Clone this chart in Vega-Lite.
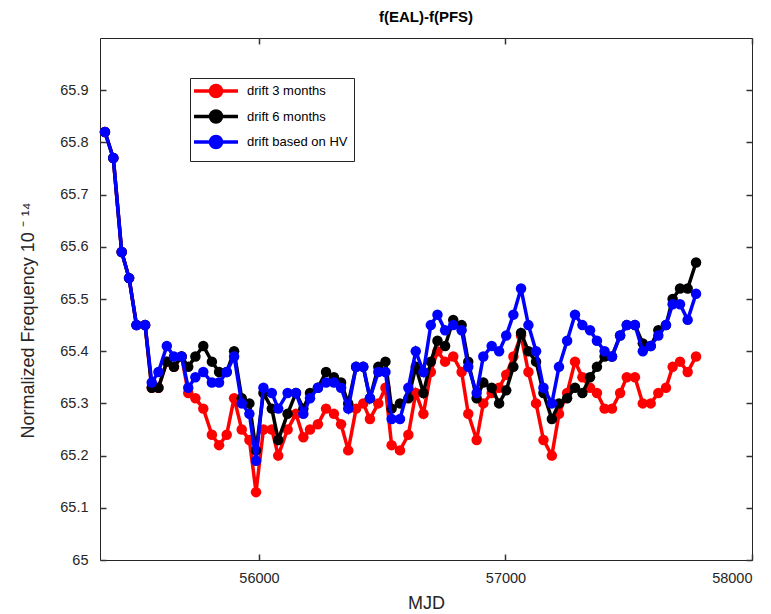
{
  "$schema": "https://vega.github.io/schema/vega-lite/v6.json",
  "autosize": {"type": "none"},
  "padding": {"left": 100, "top": 38, "right": 19, "bottom": 54},
  "width": 652,
  "height": 522,
  "background": "white",
  "title": {"text": "f(EAL)-f(PFS)", "fontSize": 15, "fontWeight": "bold", "font": "Liberation Sans", "color": "black", "offset": 12},
  "config": {
    "view": {"stroke": "#262626", "strokeWidth": 1},
    "axis": {"grid": false, "domain": false, "zindex": 1, "tickColor": "#262626", "labelColor": "#262626", "titleColor": "#262626", "labelFont": "Liberation Sans", "titleFont": "Liberation Sans", "labelFontSize": 14.5, "titleFontSize": 18, "titleFontWeight": "normal", "offset": -6}
  },
  "data": {"values": [
    {"MJD": 55375, "drift3": 65.82, "drift6": 65.82, "driftHV": 65.82},
    {"MJD": 55409, "drift3": 65.77, "drift6": 65.77, "driftHV": 65.77},
    {"MJD": 55443, "drift3": 65.59, "drift6": 65.59, "driftHV": 65.59},
    {"MJD": 55473, "drift3": 65.54, "drift6": 65.54, "driftHV": 65.54},
    {"MJD": 55503, "drift3": 65.45, "drift6": 65.45, "driftHV": 65.45},
    {"MJD": 55538, "drift3": 65.45, "drift6": 65.45, "driftHV": 65.45},
    {"MJD": 55565, "drift3": 65.33, "drift6": 65.33, "driftHV": 65.34},
    {"MJD": 55592, "drift3": 65.33, "drift6": 65.33, "driftHV": 65.36},
    {"MJD": 55626, "drift3": 65.38, "drift6": 65.38, "driftHV": 65.41},
    {"MJD": 55655, "drift3": 65.37, "drift6": 65.37, "driftHV": 65.39},
    {"MJD": 55686, "drift3": 65.39, "drift6": 65.39, "driftHV": 65.39},
    {"MJD": 55713, "drift3": 65.32, "drift6": 65.37, "driftHV": 65.33},
    {"MJD": 55742, "drift3": 65.31, "drift6": 65.39, "driftHV": 65.35},
    {"MJD": 55774, "drift3": 65.29, "drift6": 65.41, "driftHV": 65.36},
    {"MJD": 55809, "drift3": 65.24, "drift6": 65.38, "driftHV": 65.34},
    {"MJD": 55838, "drift3": 65.22, "drift6": 65.36, "driftHV": 65.34},
    {"MJD": 55869, "drift3": 65.24, "drift6": 65.36, "driftHV": 65.36},
    {"MJD": 55899, "drift3": 65.31, "drift6": 65.40, "driftHV": 65.39},
    {"MJD": 55930, "drift3": 65.25, "drift6": 65.31, "driftHV": 65.30},
    {"MJD": 55961, "drift3": 65.23, "drift6": 65.30, "driftHV": 65.28},
    {"MJD": 55988, "drift3": 65.13, "drift6": 65.21, "driftHV": 65.19},
    {"MJD": 56018, "drift3": 65.25, "drift6": 65.32, "driftHV": 65.33},
    {"MJD": 56052, "drift3": 65.25, "drift6": 65.29, "driftHV": 65.32},
    {"MJD": 56078, "drift3": 65.20, "drift6": 65.23, "driftHV": 65.29},
    {"MJD": 56116, "drift3": 65.25, "drift6": 65.28, "driftHV": 65.32},
    {"MJD": 56150, "drift3": 65.28, "drift6": 65.32, "driftHV": 65.32},
    {"MJD": 56180, "drift3": 65.235, "drift6": 65.29, "driftHV": 65.28},
    {"MJD": 56207, "drift3": 65.25, "drift6": 65.32, "driftHV": 65.31},
    {"MJD": 56239, "drift3": 65.26, "drift6": 65.33, "driftHV": 65.33},
    {"MJD": 56272, "drift3": 65.29, "drift6": 65.36, "driftHV": 65.34},
    {"MJD": 56304, "drift3": 65.28, "drift6": 65.35, "driftHV": 65.34},
    {"MJD": 56333, "drift3": 65.26, "drift6": 65.34, "driftHV": 65.33},
    {"MJD": 56362, "drift3": 65.21, "drift6": 65.30, "driftHV": 65.29},
    {"MJD": 56394, "drift3": 65.29, "drift6": 65.37, "driftHV": 65.37},
    {"MJD": 56423, "drift3": 65.30, "drift6": 65.37, "driftHV": 65.37},
    {"MJD": 56450, "drift3": 65.27, "drift6": 65.31, "driftHV": 65.31},
    {"MJD": 56484, "drift3": 65.30, "drift6": 65.37, "driftHV": 65.36},
    {"MJD": 56513, "drift3": 65.33, "drift6": 65.38, "driftHV": 65.36},
    {"MJD": 56538, "drift3": 65.22, "drift6": 65.29, "driftHV": 65.27},
    {"MJD": 56572, "drift3": 65.21, "drift6": 65.30, "driftHV": 65.27},
    {"MJD": 56606, "drift3": 65.24, "drift6": 65.31, "driftHV": 65.33},
    {"MJD": 56636, "drift3": 65.32, "drift6": 65.37, "driftHV": 65.40},
    {"MJD": 56667, "drift3": 65.28, "drift6": 65.32, "driftHV": 65.36},
    {"MJD": 56697, "drift3": 65.36, "drift6": 65.38, "driftHV": 65.45},
    {"MJD": 56724, "drift3": 65.40, "drift6": 65.42, "driftHV": 65.47},
    {"MJD": 56755, "drift3": 65.38, "drift6": 65.41, "driftHV": 65.44},
    {"MJD": 56788, "drift3": 65.39, "drift6": 65.46, "driftHV": 65.45},
    {"MJD": 56822, "drift3": 65.36, "drift6": 65.45, "driftHV": 65.44},
    {"MJD": 56849, "drift3": 65.28, "drift6": 65.38, "driftHV": 65.37},
    {"MJD": 56883, "drift3": 65.23, "drift6": 65.31, "driftHV": 65.32},
    {"MJD": 56910, "drift3": 65.30, "drift6": 65.34, "driftHV": 65.39},
    {"MJD": 56944, "drift3": 65.32, "drift6": 65.33, "driftHV": 65.41},
    {"MJD": 56974, "drift3": 65.33, "drift6": 65.30, "driftHV": 65.40},
    {"MJD": 57003, "drift3": 65.355, "drift6": 65.325, "driftHV": 65.43},
    {"MJD": 57032, "drift3": 65.39, "drift6": 65.37, "driftHV": 65.47},
    {"MJD": 57063, "drift3": 65.43, "drift6": 65.435, "driftHV": 65.52},
    {"MJD": 57093, "drift3": 65.36, "drift6": 65.40, "driftHV": 65.45},
    {"MJD": 57124, "drift3": 65.30, "drift6": 65.38, "driftHV": 65.40},
    {"MJD": 57154, "drift3": 65.23, "drift6": 65.32, "driftHV": 65.33},
    {"MJD": 57188, "drift3": 65.20, "drift6": 65.27, "driftHV": 65.30},
    {"MJD": 57217, "drift3": 65.28, "drift6": 65.30, "driftHV": 65.37},
    {"MJD": 57250, "drift3": 65.32, "drift6": 65.31, "driftHV": 65.42},
    {"MJD": 57282, "drift3": 65.38, "drift6": 65.33, "driftHV": 65.47},
    {"MJD": 57312, "drift3": 65.35, "drift6": 65.32, "driftHV": 65.45},
    {"MJD": 57343, "drift3": 65.33, "drift6": 65.35, "driftHV": 65.44},
    {"MJD": 57371, "drift3": 65.32, "drift6": 65.37, "driftHV": 65.42},
    {"MJD": 57402, "drift3": 65.29, "drift6": 65.39, "driftHV": 65.40},
    {"MJD": 57432, "drift3": 65.29, "drift6": 65.39, "driftHV": 65.39},
    {"MJD": 57465, "drift3": 65.32, "drift6": 65.43, "driftHV": 65.43},
    {"MJD": 57492, "drift3": 65.35, "drift6": 65.45, "driftHV": 65.45},
    {"MJD": 57525, "drift3": 65.35, "drift6": 65.45, "driftHV": 65.45},
    {"MJD": 57557, "drift3": 65.30, "drift6": 65.415, "driftHV": 65.40},
    {"MJD": 57589, "drift3": 65.30, "drift6": 65.41, "driftHV": 65.41},
    {"MJD": 57620, "drift3": 65.32, "drift6": 65.44, "driftHV": 65.43},
    {"MJD": 57651, "drift3": 65.33, "drift6": 65.45, "driftHV": 65.45},
    {"MJD": 57678, "drift3": 65.37, "drift6": 65.50, "driftHV": 65.49},
    {"MJD": 57708, "drift3": 65.38, "drift6": 65.52, "driftHV": 65.49},
    {"MJD": 57739, "drift3": 65.36, "drift6": 65.52, "driftHV": 65.46},
    {"MJD": 57773, "drift3": 65.39, "drift6": 65.57, "driftHV": 65.51}
  ]},
  "layer": [
    {
      "mark": {"type": "line", "strokeWidth": 3.5, "point": {"filled": true, "size": 110}},
      "encoding": {
        "x": {"field": "MJD", "type": "quantitative", "scale": {"domain": [55355, 58000], "nice": false, "zero": false},
              "axis": {"orient": "bottom", "values": [56000, 57000, 58000], "format": "d", "title": "MJD", "ticks": true, "tickSize": 6, "tickWidth": 1.5, "tickColor": "#333333", "labelPadding": 11, "titleX": 326, "titleY": 49, "titleBaseline": "middle"}},
        "y": {"field": "drift3", "type": "quantitative", "scale": {"domain": [65, 66], "nice": false, "zero": false},
              "axis": {"orient": "left", "values": [65, 65.1, 65.2, 65.3, 65.4, 65.5, 65.6, 65.7, 65.8, 65.9], "format": "~g", "title": "Normalized Frequency 10 \u207b \u00b9\u2074", "ticks": true, "tickSize": 6, "tickWidth": 1.5, "tickColor": "#333333", "labelPadding": 12, "titleX": -78, "titleY": 282, "titleBaseline": "middle", "titleAngle": -90}},
        "color": {"datum": "drift 3 months", "type": "nominal",
                  "scale": {"domain": ["drift 3 months", "drift 6 months", "drift based on HV"], "range": ["#ff0000", "#000000", "#0000ff"]},
                  "legend": {"orient": "none", "legendX": 90, "legendY": 40, "title": null, "strokeColor": "#262626", "fillColor": "white", "padding": 6,
                             "labelFont": "Liberation Sans", "labelFontSize": 13, "labelColor": "black", "rowPadding": -0.5, "labelOffset": 37,
                             "symbolType": "M-1.8,0H7M1.5,0A1.1,1.1,0,1,0,3.7,0A1.1,1.1,0,1,0,1.5,0Z", "symbolSize": 100, "symbolStrokeWidth": 3.5,
                             "encode": {"symbols": {"update": {"fill": {"scale": "color", "field": "value"}, "stroke": {"scale": "color", "field": "value"}}}}}}
      }
    },
    {
      "mark": {"type": "line", "strokeWidth": 3.5, "point": {"filled": true, "size": 110}},
      "encoding": {
        "x": {"field": "MJD", "type": "quantitative", "axis": null},
        "y": {"field": "drift6", "type": "quantitative", "axis": null},
        "color": {"datum": "drift 6 months", "type": "nominal"}
      }
    },
    {
      "mark": {"type": "line", "strokeWidth": 3.5, "point": {"filled": true, "size": 110}},
      "encoding": {
        "x": {"field": "MJD", "type": "quantitative", "axis": {"orient": "top", "values": [56000, 57000, 58000], "labels": false, "title": null, "ticks": true, "tickSize": 6, "tickWidth": 1.5, "tickColor": "#333333"}},
        "y": {"field": "driftHV", "type": "quantitative", "axis": {"orient": "right", "values": [65, 65.1, 65.2, 65.3, 65.4, 65.5, 65.6, 65.7, 65.8, 65.9], "labels": false, "title": null, "ticks": true, "tickSize": 6, "tickWidth": 1.5, "tickColor": "#333333"}},
        "color": {"datum": "drift based on HV", "type": "nominal"}
      }
    }
  ],
  "resolve": {"axis": {"x": "independent", "y": "independent"}}
}
